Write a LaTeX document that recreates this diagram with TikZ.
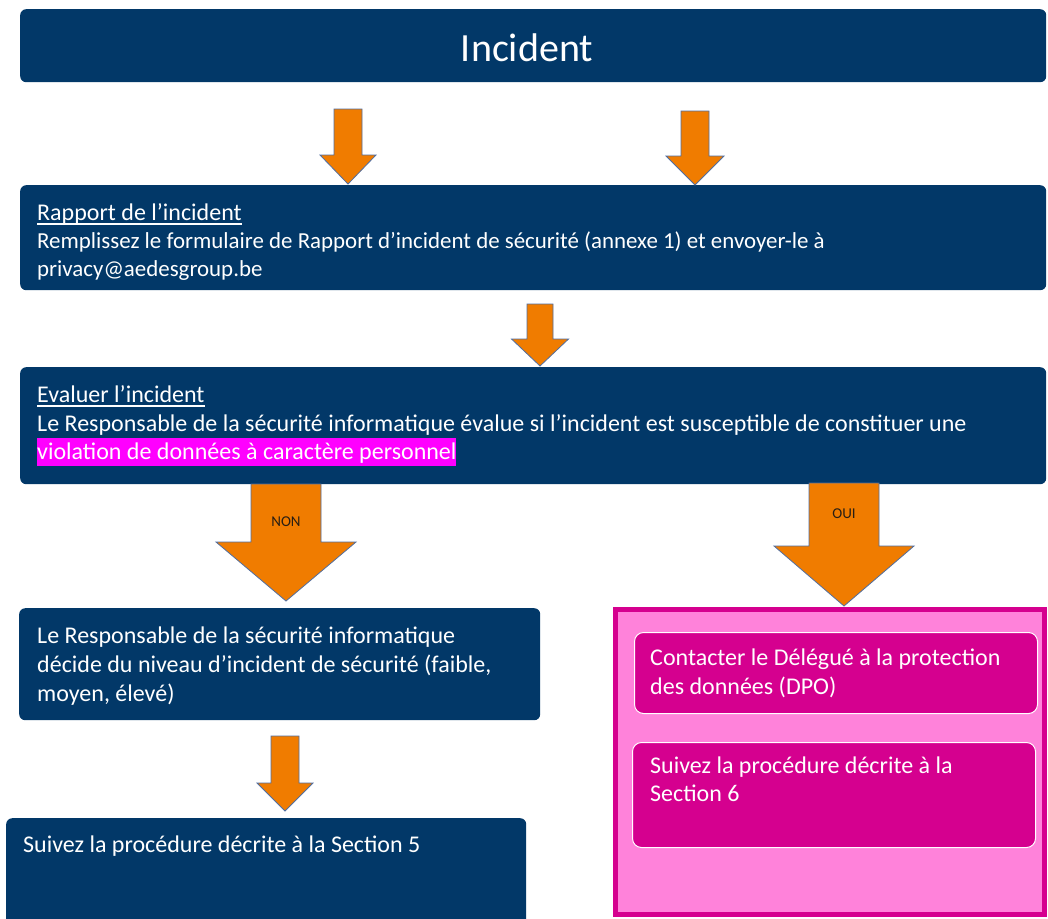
\documentclass[tikz,border=0pt]{standalone}
\usepackage{fontspec}
\setmainfont{Carlito}
\definecolor{navy}{RGB}{2,56,104}
\definecolor{orng}{RGB}{240,124,0}
\definecolor{aedge}{RGB}{80,110,160}
\definecolor{pinkbg}{RGB}{255,130,218}
\definecolor{mag}{RGB}{213,0,143}
\definecolor{hilite}{RGB}{255,0,255}
\definecolor{lbl}{RGB}{40,30,20}
\newcommand\blockarr[6]{%
  \draw[arrowshape] ({#1-#2},#3) -- ({#1+#2},#3) -- ({#1+#2},#4) -- ({#1+#5},#4)
    -- (#1,#6) -- ({#1-#5},#4) -- ({#1-#2},#4) -- cycle;}
\tikzset{
  navybox/.style={fill=navy, draw=none, rounded corners=6pt, inner sep=0pt, anchor=north west},
  magbox/.style={fill=mag, draw=white, line width=1pt, rounded corners=9pt, inner sep=0pt, anchor=north west},
  arrowshape/.style={fill=orng, draw=aedge, line width=0.8pt, line join=miter},
  txt/.style={text=white, inner sep=0pt, anchor=base west, font=\fontsize{24}{28}\selectfont},
  lbltxt/.style={text=lbl, inner sep=0pt, font=\fontsize{15}{17}\selectfont},
  uline/.style={white, line width=1.2pt},
}
\begin{document}
\begin{tikzpicture}[x=1pt,y=-1pt]
\clip (0,0) rectangle (1048,918);
\fill[white] (0,0) rectangle (1048,918);
% boxes
\node[navybox, minimum width=1026pt, minimum height=73pt] (incident) at (20,9) {};
\node[text=white, inner sep=0pt, font=\fontsize{40}{44}\selectfont] (incidentT) at (527,48) {Incident};
\node[navybox, minimum width=1026pt, minimum height=105pt] (rapport) at (20,185) {};
\node[navybox, minimum width=1026pt, minimum height=117pt] (evaluer) at (20,367) {};
\node[navybox, minimum width=521pt, minimum height=112pt] (decide) at (19,608) {};
\node[navybox, minimum width=520pt, minimum height=130pt] (sect5) at (6,818) {};
% pink group
\draw[draw=mag, fill=pinkbg, line width=5pt] (615.5,609.5) rectangle (1044.5,914) coordinate (pinkcorner);
\node[magbox, minimum width=403pt, minimum height=81pt] (dpo) at (634,632) {};
\node[magbox, minimum width=403pt, minimum height=105pt] (sect6) at (632,742) {};
% arrows
\blockarr{348}{14}{109}{155}{28}{184}
\blockarr{695}{14}{111}{156}{29}{185}
\blockarr{540}{13}{304}{339}{28.5}{366}
\blockarr{286}{35}{484}{542}{70}{601}
\blockarr{844}{35}{483}{546}{70}{606}
\blockarr{285}{14}{736}{783}{28}{811}
\node[lbltxt] (non) at (286,522) {NON};
\node[lbltxt] (oui) at (844,514) {OUI};
% rapport text
\node[txt] (r1) at (37,220) {Rapport de l’incident};
\draw[uline] ([yshift=-4pt]r1.base west) -- ([yshift=-4pt]r1.base east);
\node[txt, font=\fontsize{22.9}{28}\selectfont] (r2) at (37,248) {Remplissez le formulaire de Rapport d’incident de sécurité (annexe 1) et envoyer-le à};
\begin{scope}
\clip (20,185) rectangle (1046,280);
\node[txt, font=\fontsize{22.9}{28}\selectfont] (r3) at (37,276) {privacy@aedesgroup.be};
\end{scope}
% evaluer text
\node[txt] (e1) at (37,402) {Evaluer l’incident};
\draw[uline] ([yshift=-4pt]e1.base west) -- ([yshift=-4pt]e1.base east);
\node[txt] (e2) at (37,431) {Le Responsable de la sécurité informatique évalue si l’incident est susceptible de constituer une};
\node[txt, fill=hilite, text height=21pt, text depth=7pt] (e3) at (37,459) {violation de données à caractère personnel};
% decide text
\node[txt] (d1) at (37,643) {Le Responsable de la sécurité informatique};
\node[txt] (d2) at (37,672) {décide du niveau d’incident de sécurité (faible,};
\node[txt] (d3) at (37,701) {moyen, élevé)};
\node[txt] (s5) at (23,852) {Suivez la procédure décrite à la Section 5};
% pink text
\node[txt] (p1) at (650,665) {Contacter le Délégué à la protection};
\node[txt] (p2) at (650,694) {des données (DPO)};
\node[txt] (p3) at (650,773) {Suivez la procédure décrite à la};
\node[txt] (p4) at (650,801) {Section 6};
\end{tikzpicture}
\end{document}
